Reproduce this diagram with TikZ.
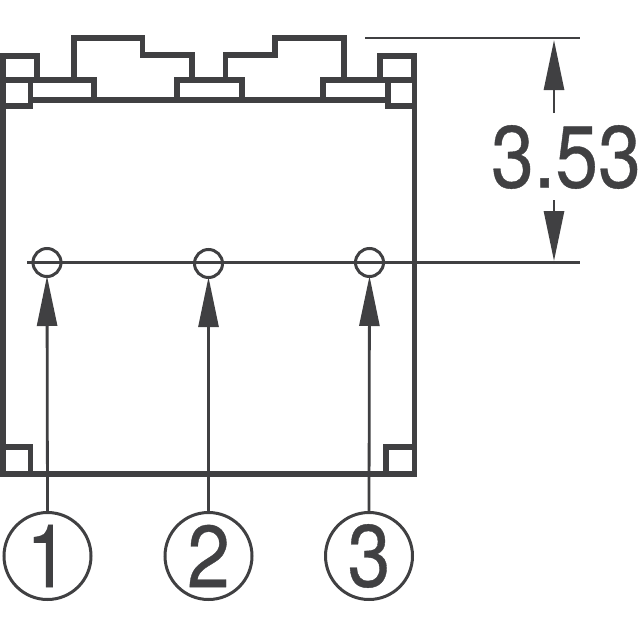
\documentclass[tikz,border=0pt]{standalone}
\usepackage{fontspec}
\setmainfont{TeX Gyre Heros}
\newfontfamily\dimfont[FakeStretch=0.875,FakeBold=0.4]{TeX Gyre Heros}
\usetikzlibrary{arrows.meta}
\definecolor{ink}{HTML}{404042}
\tikzset{
  body/.style={draw=ink,line width=5.8pt,line cap=rect,line join=miter},
  thinline/.style={draw=ink,line width=2.6pt},
  pinhole/.style={circle,draw=ink,line width=3pt,minimum size=28pt,inner sep=0pt},
  numbered/.style={circle,draw=ink,line width=3pt,minimum size=87pt,inner sep=0pt,text=ink,font=\dimfont\fontsize{88}{88}\selectfont},
  pointer/.style={draw=ink,line width=2.8pt,-{Triangle[length=50pt,width=20pt,sep=0pt,fill=ink]},shorten >=-2pt},
  dimlabel/.style={text=ink,inner sep=0pt,font=\dimfont\fontsize{88}{88}\selectfont}
}
\begin{document}
\begin{tikzpicture}[x=1pt,y=-1pt]
\useasboundingbox (0,0) rectangle (640,640);
% housing
\draw[body] (3,106) -- (3,474) -- (414.5,474) -- (414.5,106);
\draw[body] (3,106) -- (3,56) -- (37,56) -- (37,80);
\draw[body] (3,80) -- (94,80) -- (94,100) -- (30.5,100);
\draw[body] (3,106) -- (30.5,106) -- (30.5,80);
\draw[body] (74,80) -- (74,38) -- (142.5,38) -- (142.5,55) -- (192,55) -- (192,80);
\draw[body] (30.5,100) -- (388,100);
\draw[body] (177,100) -- (177,80) -- (242,80) -- (242,100);
\draw[body] (225.5,80) -- (225.5,55) -- (275,55) -- (275,38) -- (344,38) -- (344,80);
\draw[body] (323,100) -- (323,80) -- (414.5,80);
\draw[body] (380,80) -- (380,56) -- (414,56) -- (414,80);
\draw[body] (388,80) -- (388,106) -- (414.5,106) -- (414.5,80);
\draw[body] (3,447) -- (30.5,447) -- (30.5,474);
\draw[body] (414.5,447) -- (386,447) -- (386,474);
% dimension lines
\coordinate (topL) at (365,38);
\coordinate (topR) at (580,38);
\coordinate (midL) at (27,262.5);
\coordinate (midR) at (580,262.5);
\draw[thinline] (topL) -- (topR);
\draw[thinline] (midL) -- (midR);
% pin holes
\node[pinhole] (p1) at (47,262.5) {};
\node[pinhole] (p2) at (208.5,263.5) {};
\node[pinhole] (p3) at (369.5,262.5) {};
% numbered callouts
\node[numbered] (n1) at (47.5,556) {1};
\node[numbered] (n2) at (208.5,556) {2};
\node[numbered] (n3) at (369,556) {3};
\draw[pointer] (n1.north) -- (p1.south);
\draw[pointer] (n2.north) -- (p2.south);
\draw[pointer] (n3.north) -- (p3.south);
% dimension
\node[dimlabel] (dim) at (566,157) {3.53};
\coordinate (upS) at (554,113);
\coordinate (upT) at (554,40);
\coordinate (dnS) at (554,200);
\coordinate (dnT) at (554,261);
\draw[pointer,shorten >=0pt] (upS) -- (upT);
\draw[pointer,shorten >=0pt] (dnS) -- (dnT);
\end{tikzpicture}
\end{document}
